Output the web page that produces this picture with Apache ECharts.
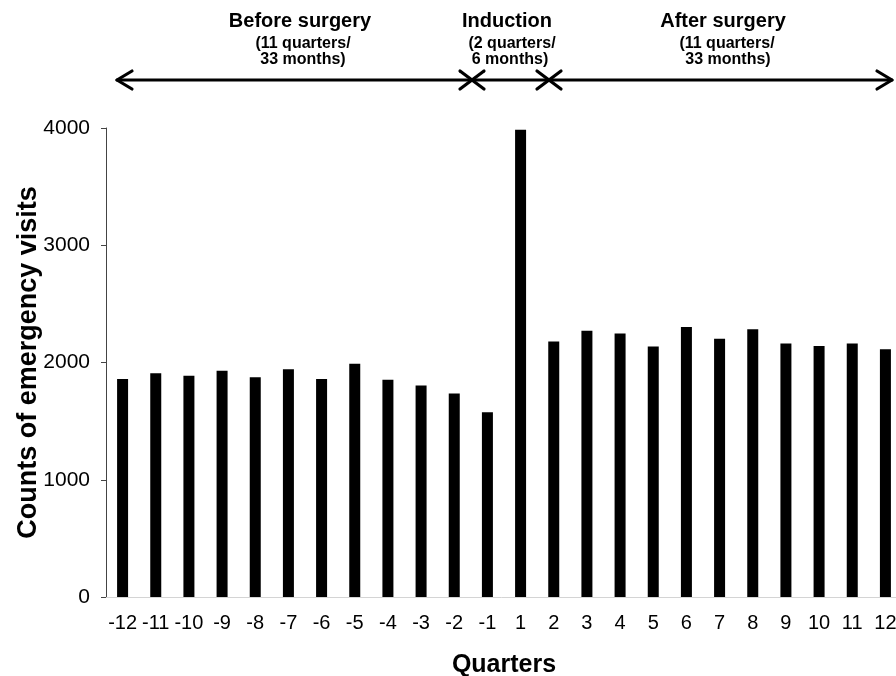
<!DOCTYPE html>
<html>
<head>
<meta charset="utf-8">
<script src="https://cdn.jsdelivr.net/npm/echarts@6/dist/echarts.min.js"></script>
<style>html,body{margin:0;padding:0;background:#fff}#c{width:896px;height:676px}</style>
</head>
<body>
<div id="c"></div>
<script>
const quarters = ['-12','-11','-10','-9','-8','-7','-6','-5','-4','-3','-2','-1','1','2','3','4','5','6','7','8','9','10','11','12'];
const visits = [1860,1909,1886,1929,1875,1943,1860,1989,1852,1803,1735,1576,3985,2179,2271,2248,2137,2303,2202,2283,2162,2140,2162,2114];
const yTicks = [0,1000,2000,3000,4000];

const FONT = '"Liberation Sans", Arial, sans-serif';
const chart = echarts.init(document.getElementById('c'));

function txt(t, x, y, size) {
  return { type: 'text', x: x, y: y, style: { text: t, fill: '#000', font: 'bold ' + size + 'px ' + FONT, textAlign: 'center', textVerticalAlign: 'middle' } };
}
function ln(pts) {
  return { type: 'polyline', shape: { points: pts }, style: { stroke: '#000', lineWidth: 3.2, fill: null, lineCap: 'round', lineJoin: 'round' } };
}

chart.setOption({
  animation: false,
  backgroundColor: '#fff',
  grid: { left: 106, top: 128, width: 796, height: 469, outerBoundsMode: 'none', containLabel: false },
  xAxis: {
    type: 'category',
    data: quarters,
    name: 'Quarters',
    nameLocation: 'middle',
    nameGap: 56,
    nameMoveOverlap: false,
    nameTextStyle: { fontFamily: FONT, fontWeight: 'bold', fontSize: 25, color: '#000' },
    axisLine: { lineStyle: { color: '#d4d4d4', width: 1 } },
    axisTick: { show: false },
    axisLabel: { fontFamily: FONT, fontSize: 20, color: '#000', margin: 16, interval: 0 }
  },
  yAxis: {
    type: 'value',
    min: 0, max: 4000, interval: 1000,
    name: 'Counts of emergency visits',
    nameLocation: 'middle',
    nameGap: 64,
    nameMoveOverlap: false,
    nameTextStyle: { fontFamily: FONT, fontWeight: 'bold', fontSize: 27, color: '#000' },
    axisLine: { show: true, lineStyle: { color: '#444', width: 1 } },
    axisTick: { show: true, length: 5, lineStyle: { color: '#444' } },
    splitLine: { show: false },
    axisLabel: { fontFamily: FONT, fontSize: 21, color: '#000', margin: 16,
      formatter: function (v) { return yTicks.indexOf(v) >= 0 ? String(v) : ''; } }
  },
  series: [{
    type: 'bar',
    data: visits,
    barWidth: 11,
    itemStyle: { color: '#000' }
  }],
  graphic: [
    txt('Before surgery', 300, 21, 20),
    txt('(11 quarters/', 303, 44, 16),
    txt('33 months)', 303, 60, 16),
    txt('Induction', 507, 21, 20),
    txt('(2 quarters/', 512, 44, 16),
    txt('6 months)', 510, 60, 16),
    txt('After surgery', 723, 21, 20),
    txt('(11 quarters/', 727, 44, 16),
    txt('33 months)', 728, 60, 16),
    ln([[117, 80], [892, 80]]),
    ln([[132, 71], [117, 80], [132, 89]]),
    ln([[877, 71], [892, 80], [877, 89]]),
    ln([[460, 71], [484, 89]]),
    ln([[460, 89], [484, 71]]),
    ln([[537, 71], [561, 89]]),
    ln([[537, 89], [561, 71]])
  ]
});
</script>
</body>
</html>
